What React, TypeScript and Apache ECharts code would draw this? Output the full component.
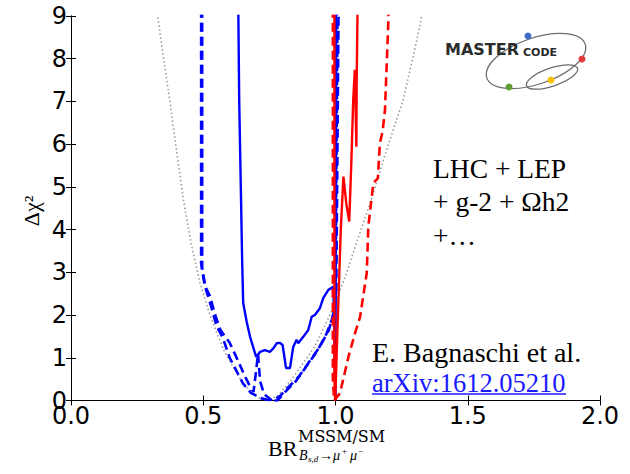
import React, { useEffect, useRef } from "react";
import * as echarts from "echarts";

// Axis ticks
const xTicks = [0, 0.5, 1.0, 1.5, 2.0];
const yTicks = [0, 1, 2, 3, 4, 5, 6, 7, 8, 9];

// Reference parabola (grey dotted)
const smReference: [number, number][] = [
  [0.31, 9.8], [0.33, 8.9], [0.35, 8.0], [0.374, 7.0], [0.40, 5.8], [0.425, 4.7],
  [0.455, 3.65], [0.488, 2.75], [0.52, 2.1], [0.55, 1.6], [0.58, 1.15], [0.613, 0.79],
  [0.645, 0.45], [0.68, 0.2], [0.71, 0.06], [0.74, 0.0], [0.78, 0.1], [0.83, 0.45],
  [0.875, 0.85], [0.92, 1.25], [0.96, 1.75], [1.0, 2.3], [1.04, 2.95], [1.08, 3.7],
  [1.13, 4.6], [1.19, 5.8], [1.256, 7.04], [1.31, 8.5], [1.345, 9.6],
];

// Blue solid profile
const blueSolid: [number, number][] = [
  [0.632, 9.5], [0.636, 7.0], [0.642, 5.0], [0.647, 3.3], [0.651, 2.28], [0.664, 1.85],
  [0.677, 1.49], [0.70, 1.02], [0.715, 1.14], [0.733, 1.18], [0.752, 1.14], [0.765, 1.22],
  [0.778, 1.34], [0.79, 1.35], [0.80, 1.30], [0.813, 0.76], [0.828, 0.76], [0.84, 1.25],
  [0.853, 1.42], [0.859, 1.34], [0.878, 1.49], [0.897, 1.65], [0.91, 1.96], [0.922, 2.0],
  [0.941, 2.16], [0.954, 2.4], [0.973, 2.59], [0.992, 2.66], [0.997, 1.0], [1.0, 0.0],
  [1.002, 9.5],
];

// Blue dashed profiles
const blueDashedA: [number, number][] = [
  [0.496, 9.5], [0.496, 3.1], [0.51, 2.6], [0.53, 2.2], [0.55, 1.75], [0.575, 1.45],
  [0.60, 1.0], [0.625, 0.7], [0.65, 0.4], [0.68, 0.18], [0.72, 0.05], [0.755, 0.0],
  [0.78, 0.0], [0.81, 0.2], [0.85, 0.45], [0.89, 0.8], [0.93, 1.15], [0.965, 1.55],
  [0.99, 1.95], [1.0, 2.4], [1.008, 9.5],
];
const blueDashedB: [number, number][] = [
  [0.492, 9.5], [0.492, 3.2], [0.505, 2.7], [0.525, 2.45], [0.545, 2.0], [0.565, 1.65],
  [0.60, 1.35], [0.63, 0.95], [0.655, 0.6], [0.675, 0.35], [0.69, 0.2], [0.70, 0.7],
  [0.707, 1.1], [0.715, 0.45], [0.73, 0.15], [0.76, 0.0], [0.79, 0.1], [0.82, 0.3],
  [0.86, 0.55], [0.90, 0.9], [0.94, 1.25], [0.975, 1.65], [0.995, 2.1], [1.003, 2.6],
  [1.012, 9.5],
];

// Red solid profile
const redSolid: [number, number][] = [
  [0.996, 9.5], [0.996, 0.5], [0.999, 0.0], [1.004, 1.0], [1.011, 2.35], [1.02, 4.0],
  [1.03, 5.24], [1.041, 4.6], [1.052, 4.19], [1.06, 5.6], [1.067, 7.04], [1.073, 7.74],
  [1.079, 5.94], [1.08, 7.4], [1.084, 9.5],
];

// Red dashed profile
const redDashed: [number, number][] = [
  [0.99, 9.5], [0.99, 0.5], [0.995, 0.0], [1.017, 0.17], [1.05, 1.05], [1.075, 1.6],
  [1.093, 1.96], [1.118, 2.98], [1.121, 3.5], [1.124, 4.07], [1.143, 5.09], [1.16, 5.2],
  [1.168, 6.03], [1.178, 6.3], [1.187, 6.8], [1.2, 8.9], [1.201, 9.5],
];

const noteLines = ["LHC + LEP", "+ g-2 + \u03A9h2", "+\u2026"];
const authorText = "E. Bagnaschi et al.";
const arxivText = "arXiv:1612.05210";

const SERIF = "'Liberation Serif', 'Times New Roman', serif";
const SANS = "'DejaVu Sans', sans-serif";

function lineSeries(data: [number, number][], color: string, type: any, width: number, z: number) {
  return {
    type: "line",
    data,
    symbol: "none",
    clip: true,
    z,
    lineStyle: { color, width, type },
    emphasis: { disabled: true },
    silent: true,
  };
}

export default function App() {
  const ref = useRef<HTMLDivElement>(null);

  useEffect(() => {
    if (!ref.current) return;
    const chart = echarts.init(ref.current, undefined, { renderer: "svg" });

    const axisCommon = {
      type: "value",
      axisLine: { show: true, lineStyle: { color: "#000", width: 1 } },
      axisTick: { show: true, inside: true, length: 5, lineStyle: { color: "#000", width: 1 } },
      splitLine: { show: false },
    };

    const xMin = xTicks[0];
    const xMax = xTicks[xTicks.length - 1];
    const xInt = xTicks[1] - xTicks[0];
    const yMin = yTicks[0];
    const yMax = yTicks[yTicks.length - 1];
    const yInt = yTicks[1] - yTicks[0];

    const option: any = {
      animation: false,
      backgroundColor: "#fff",
      grid: { left: 71, right: 30, top: 16, bottom: 73.5, containLabel: false },
      xAxis: [
        {
          ...axisCommon,
          position: "bottom",
          min: xMin,
          max: xMax,
          interval: xInt,
          axisLabel: {
            show: true,
            margin: 3,
            color: "#000",
            fontFamily: SANS,
            fontSize: 24,
            showMinLabel: true,
            showMaxLabel: true,
            formatter: (v: number) => v.toFixed(1),
          },
        },
        {
          ...axisCommon,
          position: "top",
          min: xMin,
          max: xMax,
          interval: xInt,
          axisLabel: { show: false },
        },
      ],
      yAxis: [
        {
          ...axisCommon,
          position: "left",
          min: yMin,
          max: yMax,
          interval: yInt,
          axisLabel: {
            show: true,
            margin: 4,
            color: "#000",
            fontFamily: SANS,
            fontSize: 24,
            showMinLabel: true,
            showMaxLabel: true,
            formatter: (v: number) => String(Math.round(v)),
          },
        },
        {
          ...axisCommon,
          position: "right",
          min: yMin,
          max: yMax,
          interval: yInt,
          axisLabel: { show: false },
        },
      ],
      series: [
        lineSeries(smReference, "#9a9a9a", [1.5, 2.5], 1.6, 1),
        lineSeries(blueDashedB, "#0000ff", [9, 5], 2.6, 2),
        lineSeries(blueDashedA, "#0000ff", [9, 5], 2.6, 2),
        lineSeries(blueSolid, "#0000ff", "solid", 2.4, 3),
        lineSeries(redDashed, "#ff0000", [9, 5], 2.6, 4),
        lineSeries(redSolid, "#ff0000", "solid", 2.4, 5),
      ],
      graphic: [
        // y axis title
        {
          type: "text",
          x: 31,
          y: 211,
          rotation: Math.PI / 2,
          style: {
            text: "\u0394\u03C7\u00B2",
            font: `22px ${SERIF}`,
            fill: "#000",
            align: "center",
            verticalAlign: "middle",
          },
        },
        // x axis title
        {
          type: "text",
          x: 268,
          y: 448,
          style: { text: "BR", font: `22px ${SERIF}`, fill: "#000", align: "left", verticalAlign: "middle" },
        },
        {
          type: "text",
          x: 298,
          y: 436.5,
          style: { text: "MSSM/SM", font: `16px 'DejaVu Serif', serif`, fill: "#000", align: "left", verticalAlign: "middle" },
        },
        {
          type: "text",
          x: 299,
          y: 455,
          style: { text: "B", font: `italic 14px ${SERIF}`, fill: "#000", align: "left", verticalAlign: "middle" },
        },
        {
          type: "text",
          x: 308,
          y: 459,
          style: { text: "s,d", font: `italic 9px ${SERIF}`, fill: "#000", align: "left", verticalAlign: "middle" },
        },
        {
          type: "text",
          x: 319,
          y: 455,
          style: { text: "\u2192\u03BC", font: `italic 14px ${SERIF}`, fill: "#000", align: "left", verticalAlign: "middle" },
        },
        {
          type: "text",
          x: 342,
          y: 451,
          style: { text: "+", font: `9px ${SERIF}`, fill: "#000", align: "left", verticalAlign: "middle" },
        },
        {
          type: "text",
          x: 350,
          y: 455,
          style: { text: "\u03BC", font: `italic 14px ${SERIF}`, fill: "#000", align: "left", verticalAlign: "middle" },
        },
        {
          type: "text",
          x: 358,
          y: 451,
          style: { text: "\u2212", font: `9px ${SERIF}`, fill: "#000", align: "left", verticalAlign: "middle" },
        },
        // data set note
        ...noteLines.map((t, i) => ({
          type: "text",
          x: 433,
          y: 168 + i * 33.5,
          style: { text: t, font: `27.5px ${SERIF}`, fill: "#000", align: "left", verticalAlign: "middle" },
        })),
        // reference
        {
          type: "text",
          x: 372,
          y: 352.5,
          style: { text: authorText, font: `28px ${SERIF}`, fill: "#000", align: "left", verticalAlign: "middle" },
        },
        {
          type: "text",
          x: 372,
          y: 382.5,
          style: { text: arxivText, font: `26.5px ${SERIF}`, fill: "#1a1aff", align: "left", verticalAlign: "middle" },
        },
        {
          type: "line",
          shape: { x1: 372, y1: 394, x2: 566, y2: 394 },
          style: { stroke: "#1a1aff", lineWidth: 1.5 },
        },
        // MasterCode logo
        {
          type: "ellipse",
          x: 536,
          y: 61,
          rotation: 0.33,
          shape: { cx: 0, cy: 0, rx: 52, ry: 23 },
          style: { fill: "none", stroke: "#6e6e6e", lineWidth: 1.3 },
        },
        {
          type: "ellipse",
          x: 552,
          y: 77,
          rotation: 0.33,
          shape: { cx: 0, cy: 0, rx: 27, ry: 9 },
          style: { fill: "none", stroke: "#6e6e6e", lineWidth: 1.3 },
        },
        {
          type: "text",
          x: 445,
          y: 49.5,
          style: { text: "MASTER", font: `bold 16px ${SANS}`, fill: "#2b2b2b", align: "left", verticalAlign: "middle" },
        },
        {
          type: "text",
          x: 523,
          y: 52.5,
          style: { text: "CODE", font: `bold 11px ${SANS}`, fill: "#2b2b2b", align: "left", verticalAlign: "middle" },
        },
        { type: "circle", shape: { cx: 528, cy: 36, r: 3.5 }, style: { fill: "#3a6fc4" } },
        { type: "circle", shape: { cx: 582, cy: 59, r: 3.5 }, style: { fill: "#e03a3a" } },
        { type: "circle", shape: { cx: 551, cy: 80, r: 3.5 }, style: { fill: "#f2c200" } },
        { type: "circle", shape: { cx: 509, cy: 87, r: 3.5 }, style: { fill: "#5fa032" } },
      ],
    };

    chart.setOption(option);
    return () => chart.dispose();
  }, []);

  return (
    <div
      ref={ref}
      style={{ position: "absolute", left: 0, top: 0, width: 630, height: 474, background: "#fff" }}
    />
  );
}
